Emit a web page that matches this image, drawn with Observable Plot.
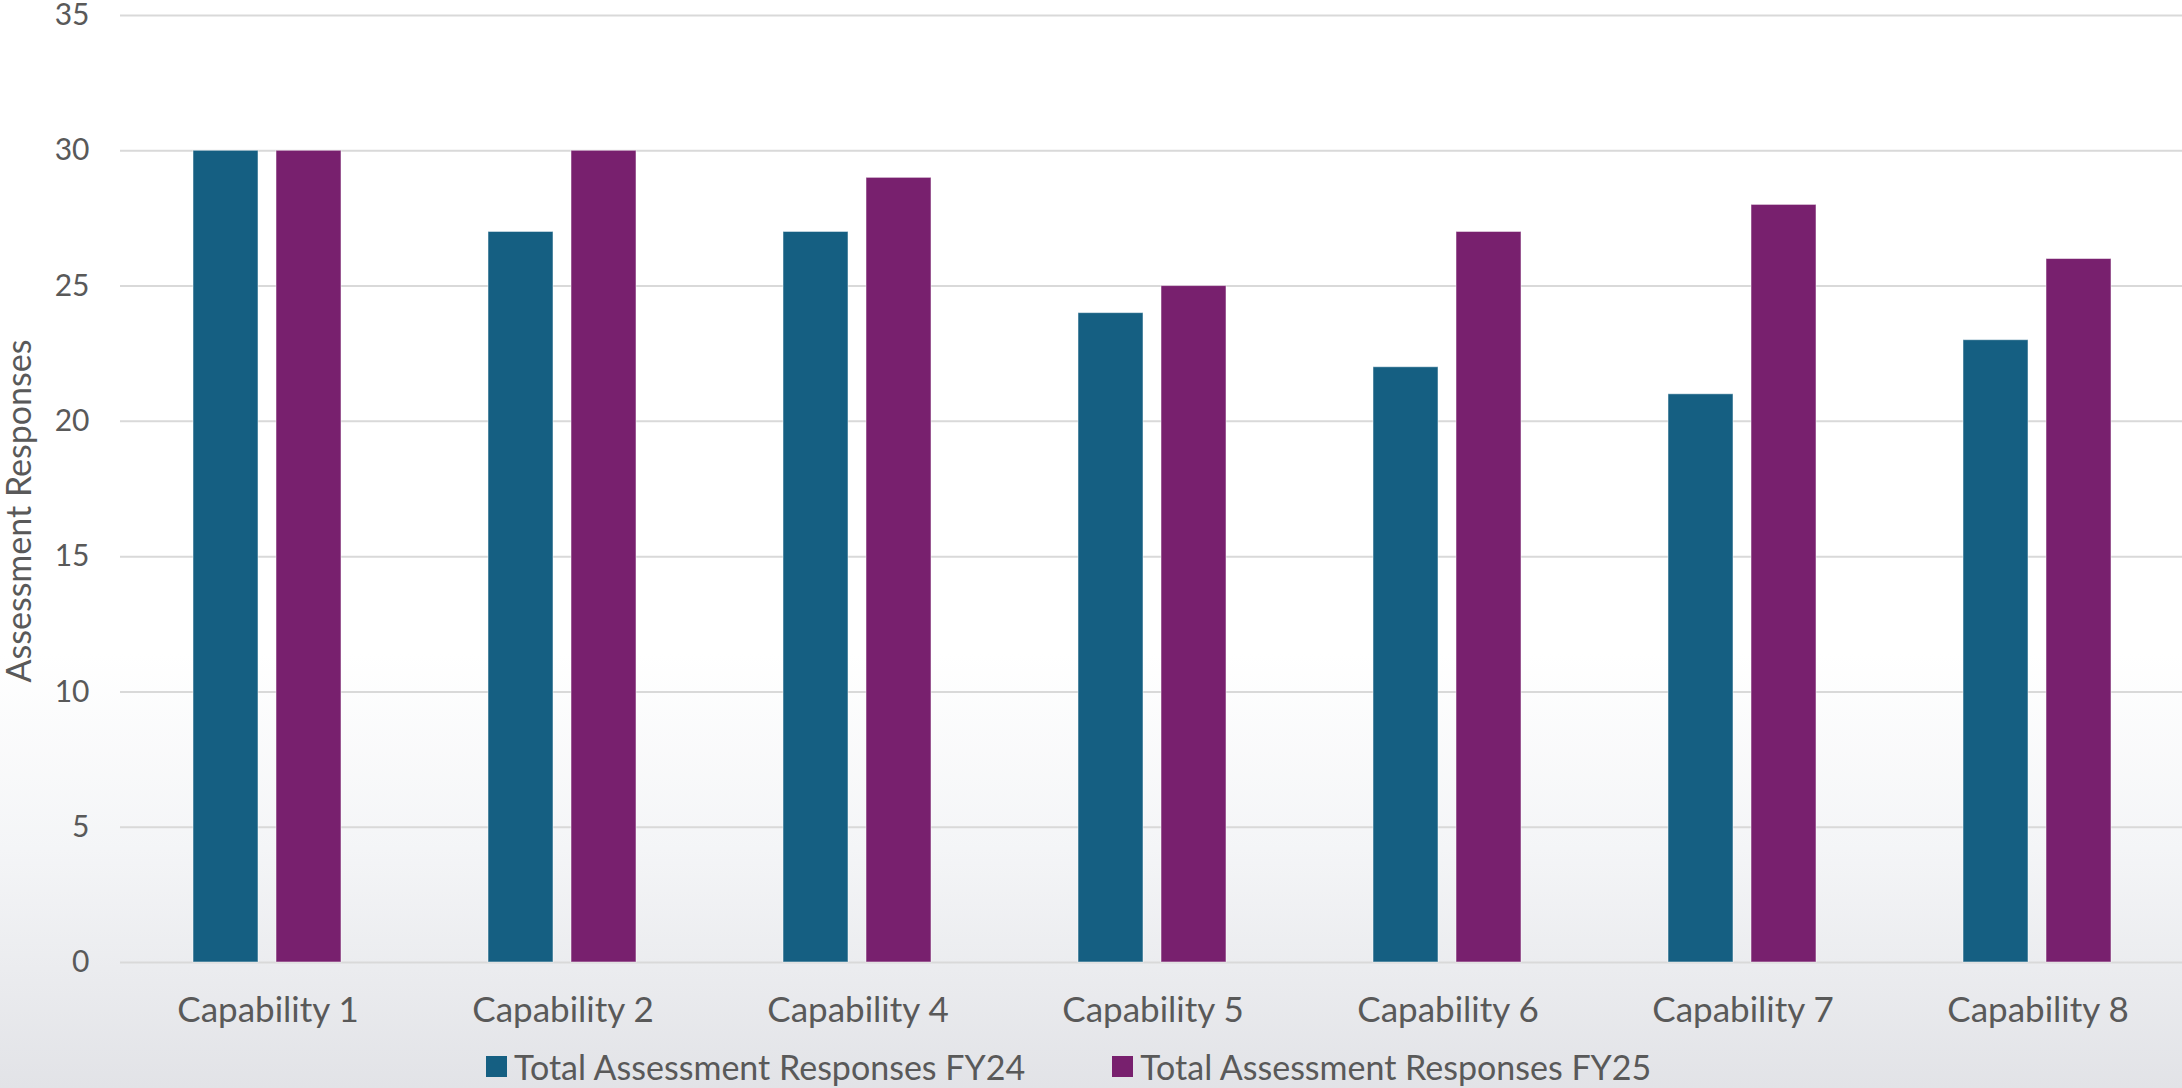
<!DOCTYPE html>
<html><head><meta charset="utf-8">
<script src="https://cdn.jsdelivr.net/npm/d3@7"></script>
<script src="https://cdn.jsdelivr.net/npm/@observablehq/plot@0.6"></script>
<style>
html,body{margin:0;padding:0;width:2182px;height:1088px;overflow:hidden;}
body{background:linear-gradient(to bottom,#ffffff 0%,#ffffff 60%,#f4f5f7 78%,#e2e3e7 100%);font-family:Lato,sans-serif;}
#wrap{position:relative;width:2182px;height:1088px;overflow:hidden;}
#chart svg{display:block;}
#legend{position:absolute;left:486px;top:1045px;height:43px;display:flex;align-items:center;gap:87px;color:#595959;font-size:34px;white-space:nowrap;}
.item{display:flex;align-items:center;gap:7px;}
.sw{width:21px;height:21px;flex:none;}
</style></head><body><div id="wrap"><div id="chart"></div><div id="legend"></div></div>
<script>
const categories = ["Capability 1","Capability 2","Capability 4","Capability 5","Capability 6","Capability 7","Capability 8"];
const fy24 = [30,27,27,24,22,21,23];
const fy25 = [30,30,29,25,27,28,26];
const seriesNames = ["Total Assessment Responses FY24","Total Assessment Responses FY25"];
const colors = ["#155f82","#78206e"];
const yTicks = [0,5,10,15,20,25,30,35];
const yLabel = "Assessment Responses";

const data = categories.flatMap((c,i) => [
  {category: c, series: seriesNames[0], value: fy24[i]},
  {category: c, series: seriesNames[1], value: fy25[i]}
]);

const chart = Plot.plot({
  width: 2187, height: 1045,
  marginLeft: 118, marginRight: 0, marginTop: 15, marginBottom: 83,
  style: {background:"transparent", fontFamily:"Lato, sans-serif", color:"#595959", maxWidth:"none", overflow:"visible"},
  fx: {domain: categories, padding: 0, label: null},
  x: {domain: seriesNames, paddingInner: 0.2143, paddingOuter: 0.8665, axis: null},
  y: {domain: [0,35], label: null},
  color: {domain: seriesNames, range: colors},
  marks: [
    Plot.gridY(yTicks, {stroke:"#d9d9d9", strokeOpacity:1, strokeWidth:2}),
    Plot.barY(data, {fx:"category", x:"series", y:"value", fill:"series", stroke:"#ffffff", strokeOpacity:0.5, strokeWidth:1}),
    Plot.axisY(yTicks, {tickSize:0, tickPadding:31, fontSize:30, label:null, fill:"#595959"}),
    Plot.axisFx({tickSize:0, tickPadding:35, fontSize:35, label:null, anchor:"bottom", fill:"#595959"}),
    Plot.text([{category: categories[0], label: yLabel}], {fx:"category", text:"label", frameAnchor:"left", rotate:-90, lineAnchor:"top", textAnchor:"middle", dx:-114, dy:22, fontSize:34, fill:"#595959"})
  ]
});
document.getElementById("chart").appendChild(chart);

const legend = d3.select("#legend");
seriesNames.forEach((s,i) => {
  const it = legend.append("div").attr("class","item");
  it.append("div").attr("class","sw").style("background", colors[i]);
  it.append("span").text(s);
});
</script></body></html>
